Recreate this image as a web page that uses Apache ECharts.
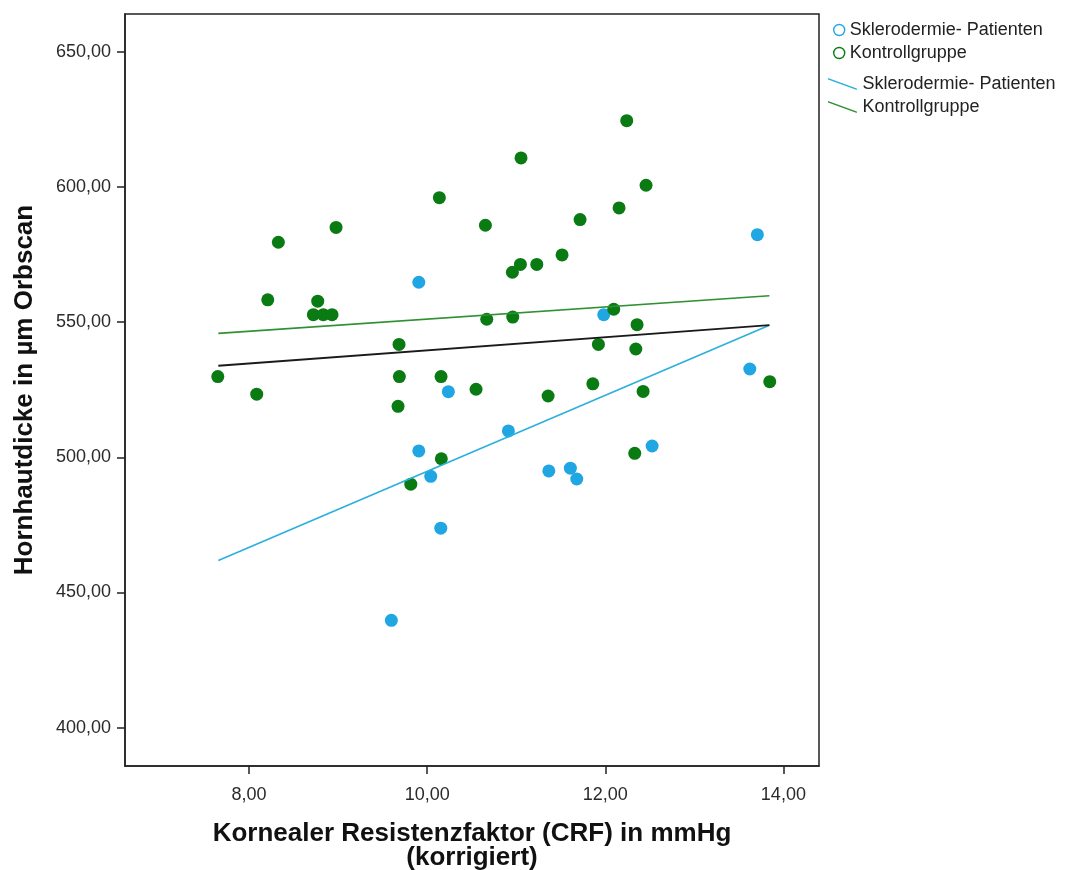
<!DOCTYPE html>
<html>
<head>
<meta charset="utf-8">
<script src="https://cdn.jsdelivr.net/npm/echarts@6/dist/echarts.min.js"></script>
<style>
  html, body { margin: 0; padding: 0; background: #ffffff; }
  #chart { width: 1065px; height: 870px; }
</style>
</head>
<body>
<div id="chart"></div>
<script>
// Scleroderma patients: corneal resistance factor (mmHg) vs. corneal thickness (µm)
const patientsCRF = [9.906, 10.238, 13.708, 11.983, 13.623, 10.912, 9.906, 10.040, 10.153, 9.598, 12.526, 11.366, 11.608, 11.680];
const patientsThickness = [564.8, 524.3, 582.4, 552.8, 532.7, 509.8, 502.4, 493.0, 473.8, 439.7, 504.2, 495.0, 496.0, 492.0];

// Control group
const controlCRF = [10.137, 8.977, 8.329, 8.210, 8.771, 8.722, 8.834, 8.932, 9.684, 7.649, 9.688, 10.156, 8.086, 9.673, 10.549,
  12.241, 11.054, 12.458, 12.155, 11.717, 10.654, 11.515, 11.047, 11.231, 10.957, 10.669, 10.961, 12.095, 12.357, 11.923,
  12.343, 11.358, 11.860, 12.425, 13.847, 10.159, 9.816, 12.331];
const controlThickness = [596.1, 585.1, 579.6, 558.3, 557.8, 552.8, 552.8, 552.8, 541.8, 529.9, 529.9, 529.9, 523.4, 518.9, 525.2,
  624.6, 610.8, 600.7, 592.3, 588.0, 585.9, 574.9, 571.4, 571.4, 568.5, 551.1, 551.9, 554.8, 549.1, 541.8,
  540.1, 522.7, 527.2, 524.4, 528.0, 499.5, 490.1, 501.5];

// Linear fit lines (start and end of the CRF range)
const fitCRF = [7.655, 13.843];
const fitPatients = [461.8, 548.9];
const fitControl = [545.9, 559.8];
const fitTotal = [533.9, 548.9];

// Axis ticks
const xTicks = [8, 10, 12, 14];
const yTicks = [400, 450, 500, 550, 600, 650];

const groupNames = ['Sklerodermie- Patienten', 'Kontrollgruppe'];

const BLUE = '#21a6e4';
const GREEN = '#0a7a12';
const BLUE_LINE = '#2ab0dc';
const GREEN_LINE = '#2f9132';
const FONT = '"Liberation Sans", Arial, sans-serif';

const pairs = (xs, ys) => xs.map((x, i) => [x, ys[i]]);
const fmt = v => v.toFixed(2).replace('.', ',');

const chart = echarts.init(document.getElementById('chart'), null, { renderer: 'canvas' });

const axisLineStyle = { color: '#222', width: 1.5 };

chart.setOption({
  animation: false,
  backgroundColor: '#ffffff',
  grid: {
    left: 125, right: 246, top: 14, bottom: 104,
    outerBoundsMode: 'none', containLabel: false,
    show: true, borderColor: '#222', borderWidth: 1.5, backgroundColor: 'transparent'
  },
  xAxis: {
    type: 'value',
    min: 6.607, max: 14.40,
    splitLine: { show: false },
    axisLine: { show: true, onZero: false, lineStyle: axisLineStyle },
    axisTick: { show: true, length: 8, customValues: xTicks, lineStyle: axisLineStyle },
    axisLabel: { customValues: xTicks, formatter: fmt, fontSize: 18, color: '#2a2a2a', fontFamily: FONT, margin: 20 },
    name: 'Kornealer Resistenzfaktor (CRF) in mmHg\n(korrigiert)',
    nameLocation: 'middle',
    nameGap: 56,
    nameTextStyle: { fontSize: 26, fontWeight: 'bold', color: '#111', fontFamily: FONT, lineHeight: 24 }
  },
  yAxis: {
    type: 'value',
    min: 385.8, max: 664.06,
    splitLine: { show: false },
    axisLine: { show: true, onZero: false, lineStyle: axisLineStyle },
    axisTick: { show: true, length: 8, customValues: yTicks, lineStyle: axisLineStyle },
    axisLabel: { customValues: yTicks, formatter: fmt, fontSize: 18, color: '#2a2a2a', fontFamily: FONT, margin: 14 },
    name: 'Hornhautdicke in µm Orbscan',
    nameLocation: 'middle',
    nameGap: 87,
    nameTextStyle: { fontSize: 26, fontWeight: 'bold', color: '#111', fontFamily: FONT }
  },
  legend: [
    {
      orient: 'vertical', left: 828, top: 16,
      itemWidth: 11, itemHeight: 11, itemGap: 5,
      icon: 'circle', selectedMode: false,
      textStyle: { fontSize: 18, color: '#222', fontFamily: FONT },
      data: [
        { name: groupNames[0], itemStyle: { color: '#ffffff', borderColor: BLUE, borderWidth: 1.4 } },
        { name: groupNames[1], itemStyle: { color: '#ffffff', borderColor: GREEN, borderWidth: 1.4 } }
      ]
    },
    {
      orient: 'vertical', left: 823, top: 70,
      itemWidth: 30, itemHeight: 12, itemGap: 5,
      icon: 'path://M0,0L30,11L30,12.5L0,1.5Z', selectedMode: false,
      textStyle: { fontSize: 18, color: '#222', fontFamily: FONT },
      data: [
        { name: groupNames[0], itemStyle: { color: BLUE_LINE, borderWidth: 0 } },
        { name: groupNames[1], itemStyle: { color: GREEN_LINE, borderWidth: 0 } }
      ]
    }
  ],
  series: [
    {
      name: groupNames[0], type: 'scatter', symbol: 'circle', symbolSize: 13,
      itemStyle: { color: BLUE, opacity: 1 },
      data: pairs(patientsCRF, patientsThickness), z: 2
    },
    {
      name: groupNames[1], type: 'scatter', symbol: 'circle', symbolSize: 13,
      itemStyle: { color: GREEN, opacity: 1 },
      data: pairs(controlCRF, controlThickness), z: 2
    },
    {
      name: groupNames[0], type: 'line', showSymbol: false, symbol: 'none',
      lineStyle: { color: BLUE_LINE, width: 1.6 }, itemStyle: { color: BLUE_LINE },
      data: pairs(fitCRF, fitPatients), z: 3
    },
    {
      name: groupNames[1], type: 'line', showSymbol: false, symbol: 'none',
      lineStyle: { color: GREEN_LINE, width: 1.6 }, itemStyle: { color: GREEN_LINE },
      data: pairs(fitCRF, fitControl), z: 3
    },
    {
      name: 'Insgesamt', type: 'line', showSymbol: false, symbol: 'none',
      lineStyle: { color: '#1a1a1a', width: 1.8 },
      data: pairs(fitCRF, fitTotal), z: 3
    }
  ]
});
</script>
</body>
</html>
